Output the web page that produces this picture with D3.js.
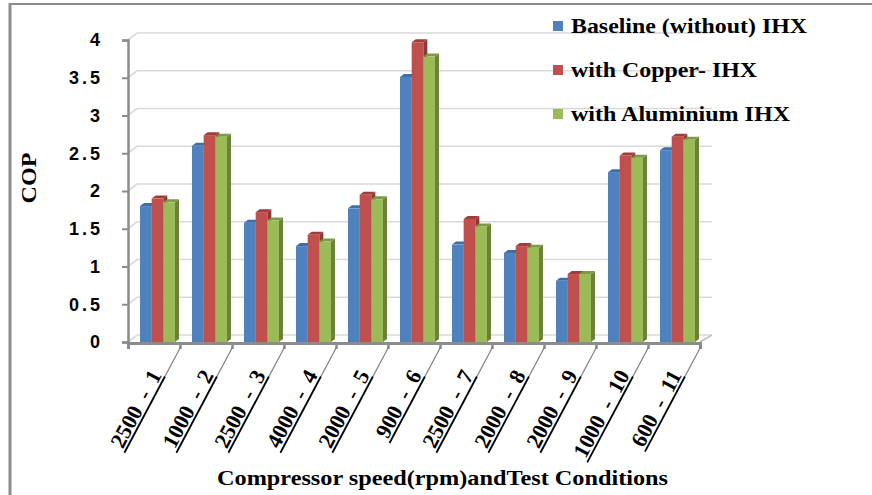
<!DOCTYPE html>
<html>
<head>
<meta charset="utf-8">
<script src="https://cdn.jsdelivr.net/npm/d3@7"></script>
<style>
    body { margin: 0; background: #fff; }
    svg { display: block; }
</style>
</head>
<body>
<div id="chart"></div>
<script>

// Données
const categories = ["2500  -  1", "1000  -  2", "2500  -  3", "4000  -  4", "2000  -  5", "900  -  6",
    "2500  -  7", "2000  -  8", "2000  -  9", "1000  -  10", "600  -  11"];
const seriesNames = ["Baseline (without) IHX", "with Copper- IHX", "with Aluminium IHX"];
const baseline = [1.80, 2.60, 1.58, 1.27, 1.77, 3.51, 1.29, 1.18, 0.81, 2.25, 2.54];
const copper = [1.90, 2.74, 1.72, 1.42, 1.95, 3.97, 1.63, 1.27, 0.90, 2.47, 2.72];
const aluminium = [1.85, 2.72, 1.61, 1.33, 1.89, 3.78, 1.53, 1.25, 0.90, 2.44, 2.68];
const yTicks = [0, 0.5, 1, 1.5, 2, 2.5, 3, 3.5, 4];

const seriesValues = [baseline, copper, aluminium];

//---------------------------------------------------------------------------------------

// Canevas
const width = 872;
const height = 495;

const svg = d3.select("#chart")
    .append("svg")
    .attr("width", width)
    .attr("height", height);

const serif = "'Liberation Serif', 'Times New Roman', serif";

// couleurs : face, côté, dessus
const colors = [
    { face: "#4F81BD", side: "#3A6496", top: "#3F6DA6" },
    { face: "#C0504D", side: "#8E3835", top: "#9E3E3B" },
    { face: "#9BBB59", side: "#6B823C", top: "#7E9A46" }
];

// profondeur 3D
const dx = 4, dy = -3;     // barres
const wx = 9, wy = -7;     // mur du fond

//---------------------------------------------------------------------------------------

// Échelles
const scaleY = d3.scaleLinear()
    .domain([0, 4])
    .range([342, 40]);

const scaleX = d3.scaleBand()
    .domain(d3.range(categories.length))
    .range([128, 700])
    .padding(0);

const scaleEdge = d3.scaleLinear()
    .domain([0, categories.length])
    .range([128, 700]);

const scaleSub = d3.scaleBand()
    .domain(d3.range(seriesNames.length))
    .range([12, 47])
    .padding(0);

//---------------------------------------------------------------------------------------

// Cadre extérieur
svg.append("line")
    .attr("x1", 10).attr("x2", 10).attr("y1", 3).attr("y2", height)
    .attr("stroke", "#8c8c8c").attr("stroke-width", 3);
svg.append("line")
    .attr("x1", 9).attr("x2", width).attr("y1", 4).attr("y2", 4)
    .attr("stroke", "#8c8c8c").attr("stroke-width", 2);

//---------------------------------------------------------------------------------------

// Mur du fond : lignes de grille en perspective
const grid = svg.append("g");
grid.selectAll("path")
    .data(yTicks)
    .join("path")
    .attr("d", d => {
        const y = scaleY(d);
        return `M${scaleEdge(0)},${y} L${scaleEdge(0) + wx},${y + wy} L${scaleEdge(categories.length) + 12},${y + wy}`;
    })
    .attr("fill", "none")
    .attr("stroke", "#d9d9d9")
    .attr("stroke-width", 1.6);

// bord droit du sol
svg.append("line")
    .attr("x1", scaleEdge(categories.length)).attr("y1", scaleY(0))
    .attr("x2", scaleEdge(categories.length) + 12).attr("y2", scaleY(0) + wy)
    .attr("stroke", "#bfbfbf").attr("stroke-width", 1.5);

//---------------------------------------------------------------------------------------

// Axe Y
svg.append("g")
    .attr("transform", `translate(${scaleEdge(0)}, 0)`)
    .call(d3.axisLeft(scaleY)
        .tickValues(yTicks)
        .tickSize(6)
        .tickPadding(19)
        .tickFormat(d => d))
    .call(g => g.select(".domain").attr("stroke", "#8c8c8c").attr("stroke-width", 2.5))
    .call(g => g.selectAll(".tick line").attr("stroke", "#8c8c8c").attr("stroke-width", 2))
    .call(g => g.selectAll(".tick text")
        .attr("fill", "#000")
        .attr("font-family", "'Liberation Sans', Arial, sans-serif")
        .attr("font-weight", "bold")
        .attr("font-size", "18px")
        .attr("letter-spacing", "3px"));

//---------------------------------------------------------------------------------------

// Barres en 3D
const groups = svg.selectAll(".grp")
    .data(categories)
    .join("g")
    .attr("class", "grp")
    .attr("transform", (d, i) => `translate(${scaleX(i)}, 0)`);

groups.each(function (cat, i) {
    const g = d3.select(this);
    seriesValues.forEach((vals, s) => {
        const x0 = scaleSub(s);
        const x1 = x0 + scaleSub.bandwidth();
        const yT = scaleY(vals[i]);
        const yB = scaleY(0);
        const c = colors[s];

        // côté droit
        g.append("path")
            .attr("d", `M${x1},${yT} L${x1 + dx},${yT + dy} L${x1 + dx},${yB + dy} L${x1},${yB} Z`)
            .attr("fill", c.side);
        // dessus
        g.append("path")
            .attr("d", `M${x0},${yT} L${x0 + dx},${yT + dy} L${x1 + dx},${yT + dy} L${x1},${yT} Z`)
            .attr("fill", c.top);
        // face
        g.append("rect")
            .attr("x", x0)
            .attr("y", yT)
            .attr("width", scaleSub.bandwidth())
            .attr("height", yB - yT)
            .attr("fill", c.face);
    });
});

//---------------------------------------------------------------------------------------

// Axe X (traits aux limites des catégories)
svg.append("g")
    .attr("transform", `translate(0, ${scaleY(0) + 1})`)
    .call(d3.axisBottom(scaleEdge)
        .tickValues(d3.range(categories.length + 1))
        .tickSize(6)
        .tickFormat(""))
    .call(g => g.select(".domain").attr("stroke", "#8c8c8c").attr("stroke-width", 3))
    .call(g => g.selectAll(".tick line").attr("stroke", "#8c8c8c").attr("stroke-width", 2.5));

// Étiquettes inclinées avec trait de rappel souligné
const angle = -62;
const gap = 34;

const labels = svg.selectAll(".xlab")
    .data(categories)
    .join("g")
    .attr("class", "xlab")
    .attr("transform", (d, i) => `translate(${scaleEdge(i + 1)}, ${scaleY(0) + 4}) rotate(${angle})`);

labels.append("text")
    .attr("x", -gap)
    .attr("y", -2)
    .attr("text-anchor", "end")
    .attr("font-family", serif)
    .attr("font-weight", "bold")
    .attr("font-size", "22px")
    .style("white-space", "pre")
    .text(d => d);

labels.each(function () {
    const g = d3.select(this);
    const len = g.select("text").node().getComputedTextLength();
    // trait gris vers l'axe
    g.append("line")
        .attr("x1", 0).attr("y1", 1)
        .attr("x2", -gap).attr("y2", 1)
        .attr("stroke", "#7f7f7f").attr("stroke-width", 1.2);
    // soulignement
    g.append("line")
        .attr("x1", -gap).attr("y1", 1)
        .attr("x2", -gap - len - 2).attr("y2", 1)
        .attr("stroke", "#000").attr("stroke-width", 1.8);
});

//---------------------------------------------------------------------------------------

// Titres des axes
svg.append("text")
    .attr("transform", `translate(36, 178) rotate(-90)`)
    .attr("text-anchor", "middle")
    .attr("font-family", serif)
    .attr("font-weight", "bold")
    .attr("font-size", "21px")
    .attr("textLength", 51)
    .attr("lengthAdjust", "spacingAndGlyphs")
    .text("COP");

svg.append("text")
    .attr("x", 217)
    .attr("y", 485)
    .attr("font-family", serif)
    .attr("font-weight", "bold")
    .attr("font-size", "21px")
    .attr("textLength", 451)
    .attr("lengthAdjust", "spacingAndGlyphs")
    .text("Compressor speed(rpm)andTest Conditions");

//---------------------------------------------------------------------------------------

// Légende
const legendWidths = [236, 186, 219];
const legend = svg.selectAll(".legend")
    .data(seriesNames)
    .join("g")
    .attr("class", "legend")
    .attr("transform", (d, i) => `translate(553, ${21 + i * 44})`);

legend.append("rect")
    .attr("width", 10)
    .attr("height", 10)
    .attr("fill", (d, i) => colors[i].face);

legend.append("text")
    .attr("x", 18)
    .attr("y", 12)
    .attr("font-family", serif)
    .attr("font-weight", "bold")
    .attr("font-size", "21px")
    .attr("textLength", (d, i) => legendWidths[i])
    .attr("lengthAdjust", "spacingAndGlyphs")
    .text(d => d);

</script>
</body>
</html>
